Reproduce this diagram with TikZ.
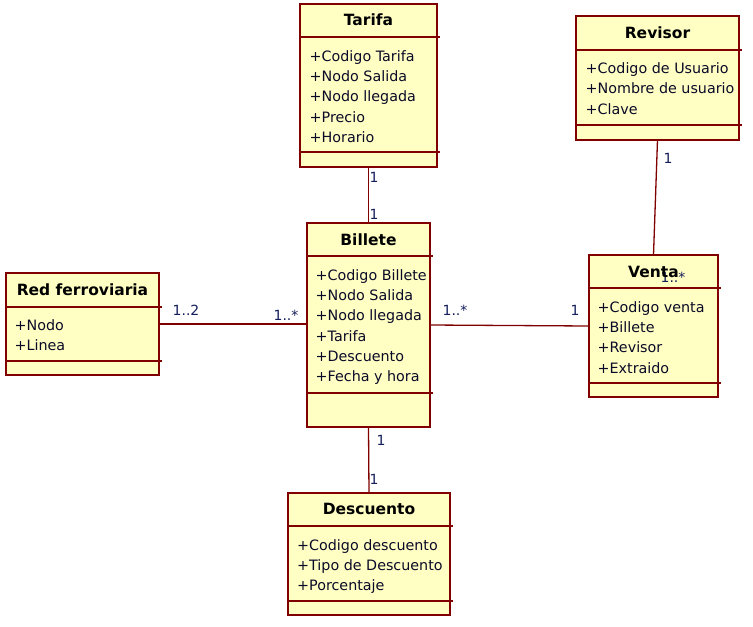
\documentclass[tikz,border=0pt]{standalone}
\usepackage{fontspec}
\setmainfont{DejaVu Sans}
\definecolor{umlred}{RGB}{128, 0, 0}
\definecolor{umlfill}{RGB}{255, 255, 196}
\definecolor{umltext}{RGB}{10, 10, 40}
\definecolor{umlnavy}{RGB}{20, 30, 90}
\usetikzlibrary{positioning, calc}

\begin{document}
\begin{tikzpicture}[x=1pt, y=1pt,
  classbox/.style={draw=umlred, fill=umlfill, line width=2pt, inner sep=0pt, outer sep=0pt},
  classname/.style={font=\fontsize{15.5}{18}\selectfont\bfseries, inner sep=0pt},
  attrs/.style={font=\fontsize{14.3}{20.3}\selectfont, text=umltext, align=left, inner sep=0pt, anchor=north west},
  divider/.style={draw=umlred, line width=2pt},
  assoc/.style={draw=umlred, line width=1.3pt},
  mult/.style={font=\fontsize{14}{16}\selectfont, text=umlnavy, inner sep=0pt}]
  \useasboundingbox (0,0) rectangle (753,-627);

  % Class boxes
  \node[classbox, minimum width=137, minimum height=163] (tarifa) at (368.5, -85.5) {};
  \node[classbox, minimum width=163, minimum height=124] (revisor) at (657.5, -78) {};
  \node[classbox, minimum width=153, minimum height=102] (red) at (82.5, -324) {};
  \node[classbox, minimum width=123, minimum height=204] (billete) at (368.5, -325) {};
  \node[classbox, minimum width=129, minimum height=142] (venta) at (653.5, -326) {};
  \node[classbox, minimum width=162, minimum height=122] (descuento) at (369, -554) {};

  % Compartment lines
  \draw[divider] ([yshift=-33pt]tarifa.north west) -- ++(140, 0);
  \draw[divider] ([yshift=-148pt]tarifa.north west) -- ++(140, 0);
  \draw[divider] ([yshift=-34pt]revisor.north west) -- ++(166, 0);
  \draw[divider] ([yshift=-109pt]revisor.north west) -- ++(166, 0);
  \draw[divider] ([yshift=-34pt]red.north west) -- ++(156, 0);
  \draw[divider] ([yshift=-88pt]red.north west) -- ++(156, 0);
  \draw[divider] ([yshift=-33pt]billete.north west) -- ++(126, 0);
  \draw[divider] ([yshift=-170pt]billete.north west) -- ++(126, 0);
  \draw[divider] ([yshift=-33pt]venta.north west) -- ++(132, 0);
  \draw[divider] ([yshift=-128pt]venta.north west) -- ++(132, 0);
  \draw[divider] ([yshift=-33pt]descuento.north west) -- ++(165, 0);
  \draw[divider] ([yshift=-108pt]descuento.north west) -- ++(165, 0);

  % Associations
  \draw[assoc] (tarifa.south) -- (billete.north);
  \draw[assoc] (revisor.south) -- (venta.north);
  \draw[assoc] (red.east) -- (red.east -| billete.west);
  \draw[assoc] (billete.east) -- (venta.west);
  \draw[assoc] (billete.south) -- (descuento.north);

  % Multiplicities
  \node[mult] (m1) at (374, -177) {1};
  \node[mult] (m2) at (374, -214) {1};
  \node[mult] (m3) at (668, -158) {1};
  \node[mult] (m4) at (673, -277) {1..*};
  \node[mult] (m5) at (186, -310) {1..2};
  \node[mult] (m6) at (286, -315) {1..*};
  \node[mult] (m7) at (455, -310) {1..*};
  \node[mult] (m8) at (575, -310) {1};
  \node[mult] (m9) at (381, -440) {1};
  \node[mult] (m10) at (374, -479) {1};

  % Class names
  \node[classname] (tarifaname) at (368.5, -20) {Tarifa};
  \node[classname] (revisorname) at (657.5, -33) {Revisor};
  \node[classname] (redname) at (82.5, -290) {Red ferroviaria};
  \node[classname] (billetename) at (368.5, -240) {Billete};
  \node[classname] (ventaname) at (653.5, -272) {Venta};
  \node[classname] (descuentoname) at (369, -509) {Descuento};

  % Attributes
  \node[attrs] (tarifaattrs) at (309.5, -50.1) {+Codigo Tarifa\\+Nodo Salida\\+Nodo llegada\\+Precio\\+Horario};
  \node[attrs] (revisorattrs) at (585.5, -62.6) {+Codigo de Usuario\\+Nombre de usuario\\+Clave};
  \node[attrs] (redattrs) at (14.5, -319.1) {+Nodo\\+Linea};
  \node[attrs] (billeteattrs) at (315.5, -269.1) {+Codigo Billete\\+Nodo Salida\\+Nodo llegada\\+Tarifa\\+Descuento\\+Fecha y hora};
  \node[attrs] (ventaattrs) at (597.5, -301.1) {+Codigo venta\\+Billete\\+Revisor\\+Extraido};
  \node[attrs] (descuentoattrs) at (297, -539.1) {+Codigo descuento\\+Tipo de Descuento\\+Porcentaje};
\end{tikzpicture}
\end{document}
